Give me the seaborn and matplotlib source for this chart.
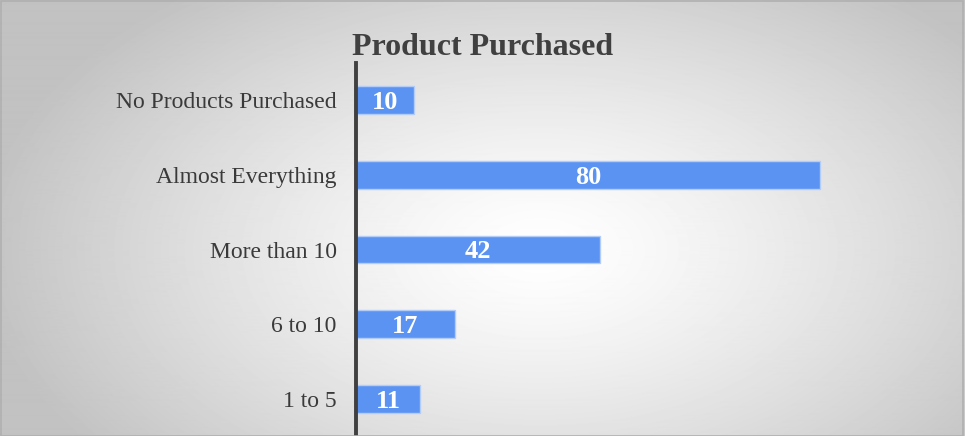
import numpy as np
import pandas as pd
import seaborn as sns
import matplotlib.pyplot as plt

# chart data
categories = ['No Products Purchased', 'Almost Everything', 'More than 10', '6 to 10', '1 to 5']
counts = [10, 80, 42, 17, 11]
title = 'Product Purchased'

df = pd.DataFrame({'category': categories, 'count': counts})

sns.set_style('white')
plt.rcParams['font.family'] = ['Liberation Serif', 'DejaVu Serif']

fig = plt.figure(figsize=(9.65, 4.36), dpi=100)

# radial gradient background
bg = fig.add_axes([0, 0, 1, 1], zorder=0)
yy, xx = np.mgrid[0:436, 0:965]
d = np.sqrt(((xx - 540) / 560.0) ** 2 + ((yy - 250) / 330.0) ** 2)
shade = 1.0 - 0.24 * np.clip(d, 0, 1) ** 1.3
bg.imshow(shade, cmap='gray', vmin=0, vmax=1, aspect='auto', interpolation='bilinear')
bg.set_axis_off()
fig.patches.append(plt.Rectangle((0.001, 0.001), 0.997, 0.996, transform=fig.transFigure,
                                 fill=False, edgecolor='#b0b0b0', lw=1.2, zorder=5))

ax = fig.add_axes([356 / 965, 0, 580 / 965, 373 / 436], zorder=1)
ax.patch.set_alpha(0)
sns.barplot(data=df, x='count', y='category', ax=ax, color='#5b93f2', saturation=1,
            width=0.37, edgecolor='#b3ccf8', linewidth=1)

ax.set_xlim(0, 100)
ax.set_ylim(4.5, -0.5)
for c in ax.containers:
    txts = ax.bar_label(c, labels=[str(v) for v in counts], label_type='center',
                        color='white', fontsize=19, fontweight='bold')
    for t in txts:
        t.set_va('center_baseline')

sns.despine(ax=ax, left=False, bottom=True, top=True, right=True)
ax.spines['left'].set_color('#404040')
ax.spines['left'].set_linewidth(2.8)
ax.set_xticks([])
ax.tick_params(axis='y', length=0, labelsize=17, labelcolor='#3a3a3a', pad=14)
ax.set_xlabel('')
ax.set_ylabel('')

fig.text(0.5, 0.89, title, ha='center', va='center', fontsize=23,
         fontweight='bold', color='#404040')

plt.savefig('out.png', dpi=100)
